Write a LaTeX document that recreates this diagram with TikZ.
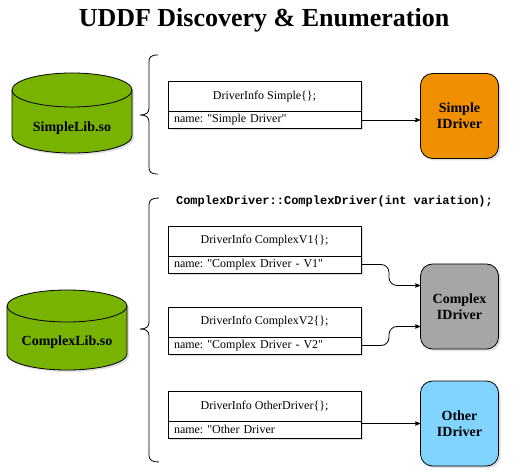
\documentclass[tikz,border=0pt]{standalone}
\usepackage{fontspec}
\setmainfont{Liberation Serif}
\setmonofont{Liberation Mono}
\newfontfamily\rowfont{Liberation Serif}
\usetikzlibrary{arrows,positioning,shadows}
\definecolor{libgreen}{RGB}{119,179,0}
\definecolor{simpleorange}{RGB}{240,144,0}
\definecolor{complexgray}{RGB}{166,166,166}
\definecolor{otherblue}{RGB}{128,212,255}
\frenchspacing

\begin{document}
\begin{tikzpicture}[x=1pt,y=-1pt,>=stealth',line width=0.8pt,
                    soft shadow/.style={drop shadow={opacity=0.25,shadow xshift=2pt,shadow yshift=-2pt}},
                    info head/.style={rectangle,draw,fill=white,outer sep=0pt,minimum width=193pt,minimum height=30pt,
                                      font=\fontsize{12}{14}\selectfont,soft shadow},
                    info row/.style={rectangle,draw,fill=white,outer sep=0pt,text width=181pt,align=left,
                                     inner xsep=6pt,inner ysep=0pt,minimum height=17pt,
                                     font=\fontsize{12}{14}\selectfont\rowfont,soft shadow},
                    driver node/.style={rectangle,rounded corners=12pt,draw,minimum width=78pt,minimum height=85pt,
                                        align=center,font=\fontsize{14}{16}\selectfont\bfseries,soft shadow},
                    lib shape/.style={draw,fill=libgreen,soft shadow},
                    lib text/.style={font=\fontsize{14}{16}\selectfont\bfseries}]
  \useasboundingbox (0,0) rectangle (528,473);

  % Title
    \node[anchor=base,font=\fontsize{26}{30}\selectfont\bfseries] (title) at (264,27) {UDDF Discovery \& Enumeration};

  % Libraries
    \draw[lib shape] (12,90) -- (12,136) arc[start angle=180,end angle=0,x radius=60,y radius=17]
      -- (132,90) arc[start angle=0,end angle=-180,x radius=60,y radius=17] -- cycle;
    \draw (12,90) arc[start angle=180,end angle=0,x radius=60,y radius=17];
    \node[lib text] (slib) at (72,128) {SimpleLib.so};

    \draw[lib shape] (7,306) -- (7,354) arc[start angle=180,end angle=0,x radius=60,y radius=16]
      -- (127,306) arc[start angle=0,end angle=-180,x radius=60,y radius=16] -- cycle;
    \draw (7,306) arc[start angle=180,end angle=0,x radius=60,y radius=16];
    \node[lib text] (clib) at (67,342) {ComplexLib.so};

  % Braces
    \draw (158,55) .. controls (151,55) and (149,57) .. (149,62) -- (149,108)
      .. controls (149,113) and (146,115) .. (140,115) .. controls (146,115) and (149,117) .. (149,122)
      -- (149,167) .. controls (149,172) and (151,174) .. (158,174);
    \draw (159,198) .. controls (152,198) and (149,200) .. (149,205) -- (149,322)
      .. controls (149,327) and (146,329) .. (140,329) .. controls (146,329) and (149,331) .. (149,336)
      -- (149,455) .. controls (149,460) and (152,462) .. (159,462);

  % Driver infos
    \node[info head] (s1h) at (264.5,96.5) {DriverInfo Simple\{\};};
    \node[info row] (s1r) [below=0pt of s1h] {name: "Simple Driver"};

    \node[font=\fontsize{12}{14}\selectfont\ttfamily\bfseries] (ctor) at (334.5,201) {ComplexDriver::ComplexDriver(int variation);};

    \node[info head] (c1h) at (264.5,241) {DriverInfo ComplexV1\{\};};
    \node[info row] (c1r) [below=0pt of c1h] {name: "Complex Driver - V1"};

    \node[info head] (c2h) at (264.5,322) {DriverInfo ComplexV2\{\};};
    \node[info row] (c2r) [below=0pt of c2h] {name: "Complex Driver - V2"};

    \node[info head] (o1h) at (264.5,406) {DriverInfo OtherDriver\{\};};
    \node[info row] (o1r) [below=0pt of o1h] {name: "Other Driver};

  % Drivers
    \node[driver node,fill=simpleorange] (sdrv) at (459.5,116) {Simple\\IDriver};
    \node[driver node,fill=complexgray] (cdrv) at (459.5,306.5) {Complex\\IDriver};
    \node[driver node,fill=otherblue] (odrv) at (459.5,423.5) {Other\\IDriver};

  % Edges
    \draw[->] (s1r.east) -- (s1r.east -| sdrv.west);
    \draw[->,rounded corners=8pt] (c1r.east) -- ++(28,0) |- ([yshift=21pt]cdrv.west);
    \draw[->,rounded corners=8pt] (c2r.east) -- ++(28,0) |- ([yshift=-20pt]cdrv.west);
    \draw[->] (o1r.east |- odrv.west) -- (odrv.west);
\end{tikzpicture}
\end{document}
